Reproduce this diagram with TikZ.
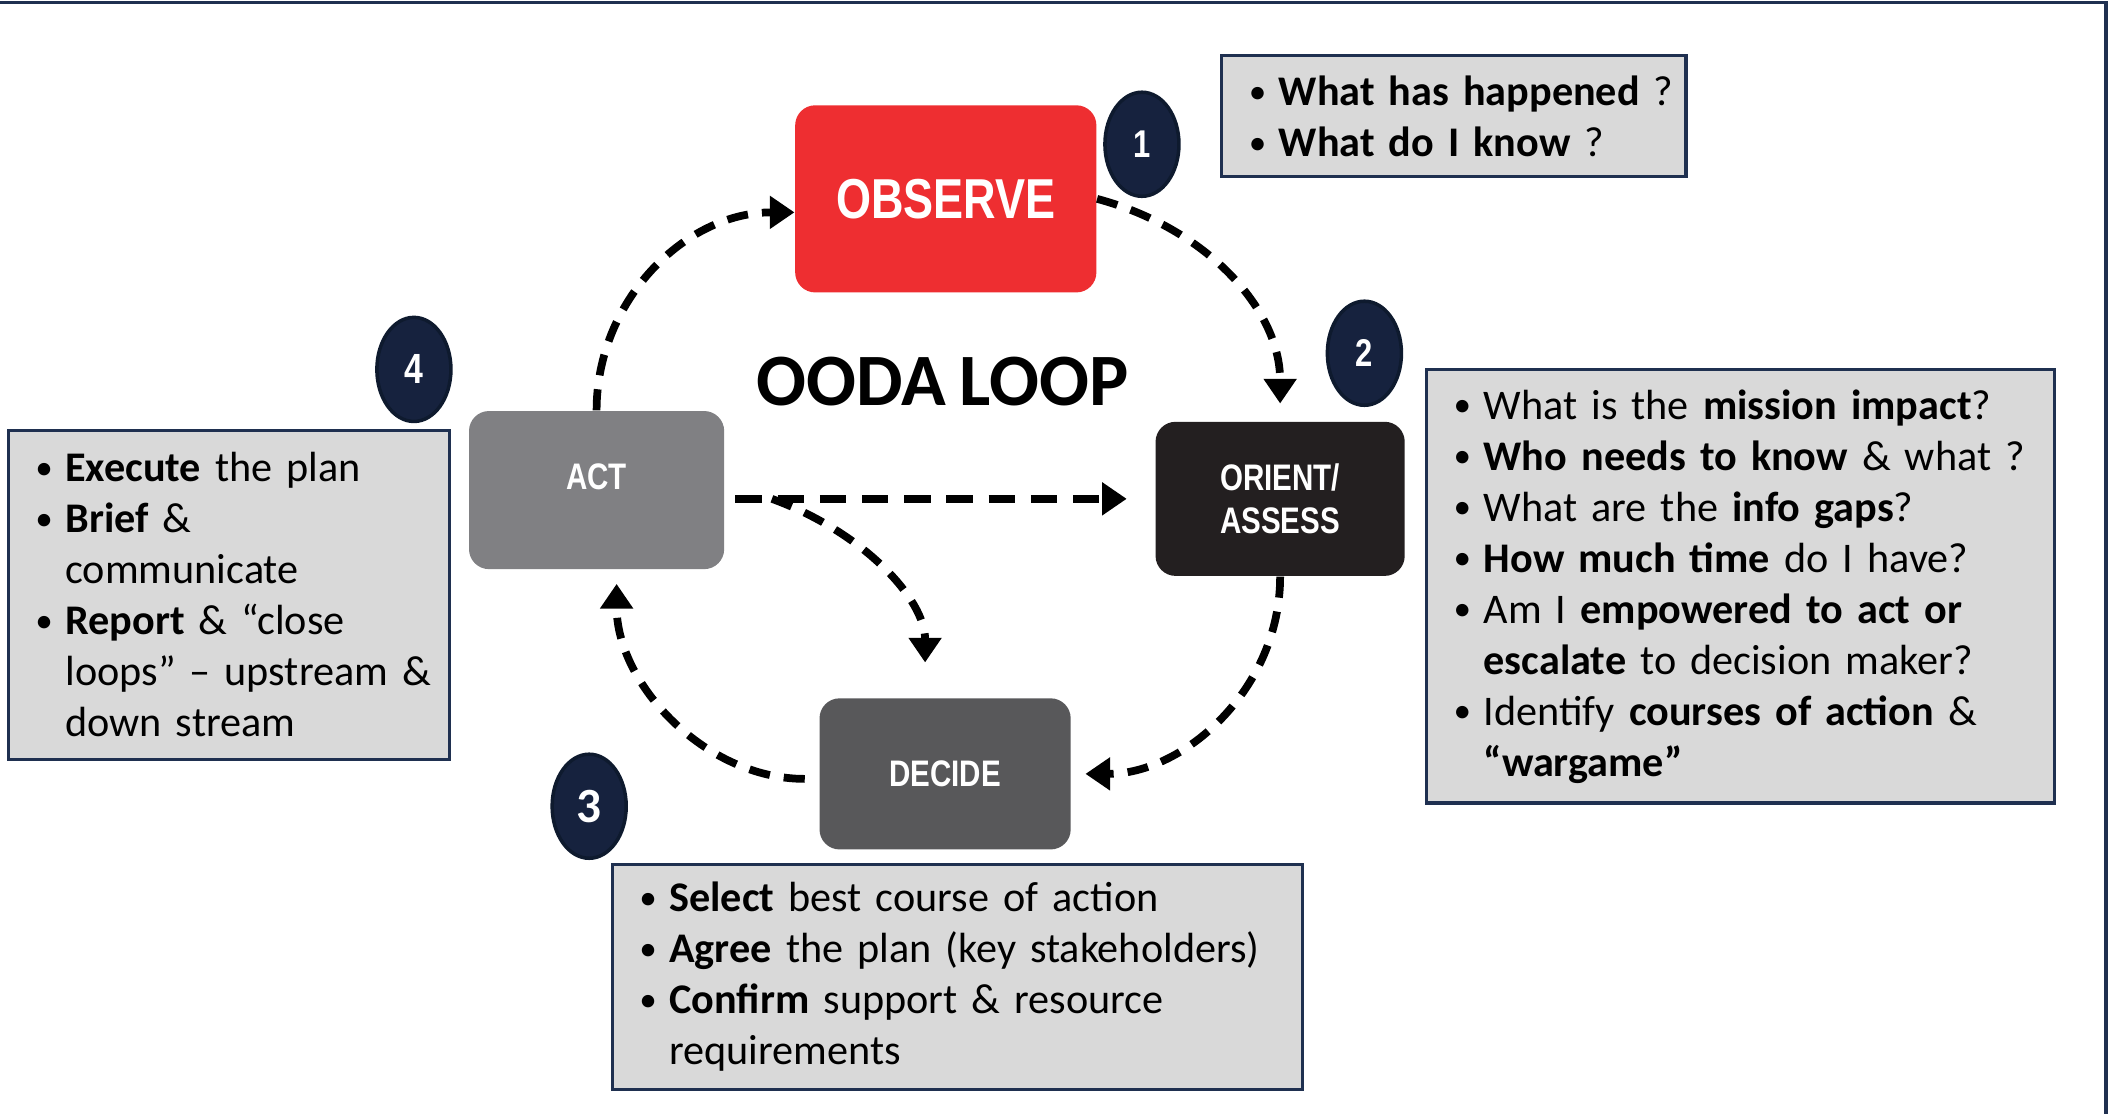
\documentclass[tikz,border=0pt]{standalone}
\usepackage{fontspec}
\setmainfont{Carlito}[WordSpace=0.8]
\newfontfamily\condfont[FakeStretch=0.8]{Liberation Sans}
\usetikzlibrary{arrows.meta,shapes.geometric,calc}

\definecolor{obsred}{HTML}{EE2E31}
\definecolor{actgray}{HTML}{808083}
\definecolor{orientblack}{HTML}{231F20}
\definecolor{decidegray}{HTML}{58585A}
\definecolor{badgenavy}{HTML}{16223E}
\definecolor{badgeedge}{HTML}{0E1A2E}
\definecolor{boxgray}{HTML}{D9D9D9}
\definecolor{framenavy}{HTML}{1F3050}

\newcommand{\dotmark}{\makebox[0.30cm][l]{\raisebox{0.6pt}{\fontsize{10}{10}\selectfont\textbullet}}}
\newcommand{\bitem}[1]{\mbox{\dotmark#1}}
\newcommand{\bcont}[1]{\mbox{\hspace*{0.30cm}#1}}

\tikzstyle{phase} = [rectangle, rounded corners=0.2cm, text=white, align=center, font=\condfont\bfseries\fontsize{10.5}{12}\selectfont]
\tikzstyle{infobox} = [rectangle, anchor=north west, draw=framenavy, fill=boxgray, line width=0.9pt, align=left, inner xsep=0.27cm, font=\fontsize{12}{14.5}\selectfont]
\tikzstyle{badge} = [ellipse, fill=badgenavy, draw=badgeedge, line width=1pt, minimum width=0.74cm, minimum height=1.04cm, inner sep=0pt, text=white]
\tikzstyle{flow} = [line width=2.2pt, dash pattern=on 6pt off 4pt, -{Triangle[length=7pt,width=9pt]}]

\begin{document}
\begin{tikzpicture}[x=0.01348cm, y=-0.01348cm]

\useasboundingbox (0,0) rectangle (1568,826);

\draw[framenavy, line width=1pt] (0,2) -- (1562,2) -- (1562,826);

\node (obs) [phase, fill=obsred, minimum width=3.01cm, minimum height=1.87cm, font=\condfont\bfseries\fontsize{16}{18}\selectfont] at (701.5,147.5) {OBSERVE};

\node (act) [phase, fill=actgray, minimum width=2.55cm, minimum height=1.58cm] at (442.5,363.5) {\raisebox{0.13cm}[\height][0pt]{ACT}};

\node (ori) [phase, fill=orientblack, minimum width=2.49cm, minimum height=1.54cm] at (949.5,370) {ORIENT/\\ASSESS};

\node (dec) [phase, fill=decidegray, minimum width=2.51cm, minimum height=1.51cm] at (701,574) {DECIDE};

\node (title) [font=\bfseries\fontsize{21}{24}\selectfont] at (699,283) {OODA LOOP};

\node (one) [badge, font=\condfont\bfseries\fontsize{11}{12}\selectfont] at (847,107) {1};

\node (two) [badge, font=\condfont\bfseries\fontsize{11}{12}\selectfont] at (1012,262) {2};

\node (three) [badge, font=\bfseries\fontsize{14}{16}\selectfont] at (437,598) {3};

\node (four) [badge, font=\condfont\bfseries\fontsize{12}{12}\selectfont] at (307,274) {4};

\node (notesobs) [infobox, minimum width=4.64cm, minimum height=1.21cm, text width=4.10cm] at (905,40) {\bitem{\textbf{What has happened} ?}\\
\bitem{\textbf{What do I know} ?}};

\node (notesori) [infobox, minimum width=6.27cm, minimum height=4.33cm, text width=5.73cm] at (1057,273) {\bitem{What is the \textbf{mission impact}?}\\
\bitem{\textbf{Who needs to know} \& what ?}\\
\bitem{What are the \textbf{info gaps}?}\\
\bitem{\textbf{How much time} do I have?}\\
\bitem{Am I \textbf{empowered to act or}}\\
\bcont{\textbf{escalate} to decision maker?}\\
\bitem{Identify \textbf{courses of action} \&}\\
\bcont{\textbf{“wargame”}}};

\node (notesdec) [infobox, minimum width=6.90cm, minimum height=2.25cm, text width=6.36cm] at (453,640) {\bitem{\textbf{Select} best course of action}\\
\bitem{\textbf{Agree} the plan (key stakeholders)}\\
\bitem{\textbf{Confirm} support \& resource}\\
\bcont{requirements}};

\node (notesact) [infobox, minimum width=4.41cm, minimum height=3.29cm, text width=3.87cm] at (5,318) {\bitem{\textbf{Execute} the plan}\\
\bitem{\textbf{Brief} \&}\\
\bcont{communicate}\\
\bitem{\textbf{Report} \& “close}\\
\bcont{loops” – upstream \&}\\
\bcont{down stream}};

\coordinate (fork) at ($(act.east |- ori.west)+(0.47cm,0)$);

\draw[flow] (act.north) to[out=90, in=180] ([yshift=-0.135cm]obs.west);

\draw[flow, shorten >=5pt] (obs.east) to[out=-15, in=90] (ori.north);

\draw[flow, shorten >=4pt] (ori.south) to[out=-90, in=0] (dec.east);

\draw[flow, shorten <=4pt, shorten >=4pt] ([yshift=-0.05cm]dec.west) to[out=180, in=-90] ([xshift=0.2cm]act.south);

\draw[flow, dash pattern=on 7.5pt off 4.5pt, shorten <=3pt, shorten >=8pt] (act.east |- ori.west) -- (ori.west);

\draw[flow, shorten >=10pt] (fork) to[out=-20, in=90] ([xshift=-0.2cm]dec.north);

\end{tikzpicture}
\end{document}
